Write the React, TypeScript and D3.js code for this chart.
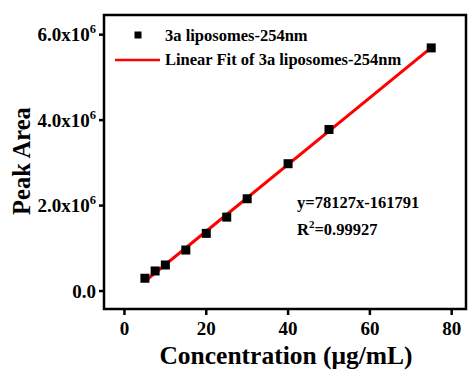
import React from "react";
import { scaleLinear, line } from "d3";

const concentrations = [5, 7.5, 10, 15, 20, 25, 30, 40, 50, 75];
const peakAreas = [0.3e6, 0.47e6, 0.61e6, 0.96e6, 1.35e6, 1.73e6, 2.16e6, 2.98e6, 3.78e6, 5.69e6];
const xTicks = [0, 20, 40, 60, 80];
const yTicks = [0, 2e6, 4e6, 6e6];
const yTickLabels = ["0.0", "2.0x10", "4.0x10", "6.0x10"];
const fitSlope = 78127;
const fitIntercept = -161791;
const fitRange = [5, 75];

const font = "'Liberation Serif', 'Times New Roman', serif";

export default function App() {
  const left = 104;
  const right = 466;
  const top = 15;
  const bottom = 309;

  const x = scaleLinear().domain([-5, 83.5]).range([left, right]);
  const y = scaleLinear().domain([-0.42e6, 6.46e6]).range([bottom, top]);

  const fitLine = line<number>()
    .x((d) => x(d))
    .y((d) => y(fitSlope * d + fitIntercept));

  const points = concentrations.map((c, i) => ({ c, v: peakAreas[i] }));

  return (
    <svg
      width={469}
      height={370}
      style={{ position: "absolute", left: 0, top: 0, background: "#fff" }}
      fontFamily={font}
      fontWeight="bold"
    >
      {/* frame */}
      <rect
        x={left}
        y={top}
        width={right - left}
        height={bottom - top}
        fill="none"
        stroke="#000"
        strokeWidth={2.5}
      />

      {/* y axis ticks */}
      {yTicks.map((t, i) => (
        <g key={t}>
          <line x1={left - 5} x2={left} y1={y(t)} y2={y(t)} stroke="#000" strokeWidth={2.5} />
          <text x={96} y={y(t) + 6.5} textAnchor="end" fontSize={19}>
            {yTickLabels[i]}
            {i > 0 && (
              <tspan fontSize={12.5} dy={-8}>
                6
              </tspan>
            )}
          </text>
        </g>
      ))}

      {/* x axis ticks */}
      {xTicks.map((t) => (
        <g key={t}>
          <line x1={x(t)} x2={x(t)} y1={bottom} y2={bottom + 6} stroke="#000" strokeWidth={2.5} />
          <text x={x(t)} y={335} textAnchor="middle" fontSize={19}>
            {t}
          </text>
        </g>
      ))}

      {/* axis titles */}
      <text x={286} y={364} textAnchor="middle" fontSize={25.5}>
        Concentration (μg/mL)
      </text>
      <text
        transform={`translate(30, 161) rotate(-90)`}
        textAnchor="middle"
        fontSize={24.5}
      >
        Peak Area
      </text>

      {/* fit line */}
      <path d={fitLine(fitRange) ?? ""} stroke="#f00" strokeWidth={3} fill="none" />

      {/* data points */}
      {points.map((p) => (
        <rect
          key={p.c}
          x={x(p.c) - 4.5}
          y={y(p.v) - 4.5}
          width={9}
          height={9}
          fill="#000"
        />
      ))}

      {/* legend */}
      <rect x={134.5} y={31.5} width={7} height={7} fill="#000" />
      <text x={165} y={41} fontSize={16.5}>
        3a liposomes-254nm
      </text>
      <line x1={115} x2={160} y1={60} y2={60} stroke="#f00" strokeWidth={2.5} />
      <text x={165} y={65} fontSize={16.5}>
        Linear Fit of 3a liposomes-254nm
      </text>

      {/* equation */}
      <text x={297} y={208} fontSize={16.5}>
        y=78127x-161791
      </text>
      <text x={297} y={235} fontSize={16.5}>
        R<tspan fontSize={11} dy={-7}>2</tspan>
        <tspan dy={7}>=0.99927</tspan>
      </text>
    </svg>
  );
}
